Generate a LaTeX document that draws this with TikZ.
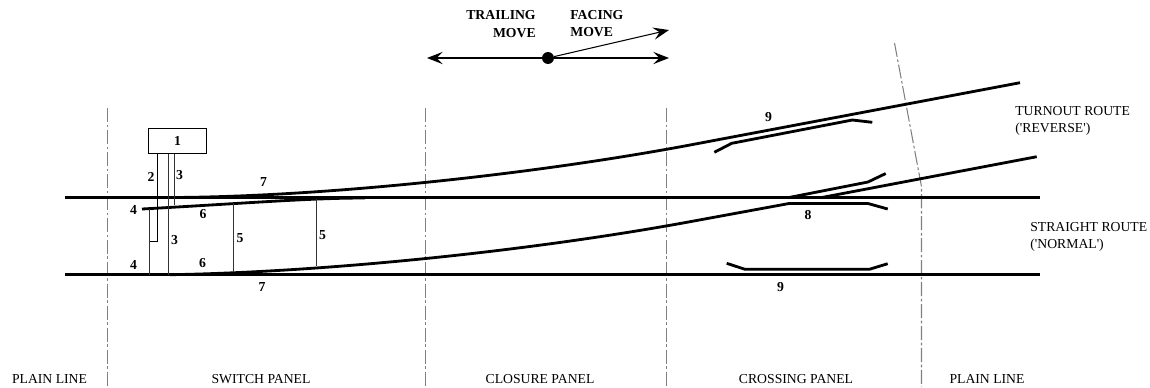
\documentclass[tikz,border=0pt]{standalone}
\usepackage{fontspec}
\setmainfont{Liberation Serif}
\usetikzlibrary{arrows.meta}

\tikzset{
    rail/.style={line width=1.6pt, line join=round},
    rod/.style={line width=0.6pt, black!80},
    panelline/.style={gray, line width=0.6pt, dash pattern=on 8pt off 1.5pt on 1.5pt off 1.5pt},
    movearrow/.style={line width=0.6pt, -{Stealth[length=9pt, width=7pt, inset=3.5pt]}},
    partlabel/.style={font=\fontsize{7.8}{9}\selectfont\bfseries, inner sep=0pt},
    routelabel/.style={font=\fontsize{7.8}{9.6}\selectfont, inner sep=0pt, anchor=west, align=left},
    panellabel/.style={font=\fontsize{7.8}{9}\selectfont, inner sep=0pt}
}

\begin{document}
\begin{tikzpicture}[x=0.02cm, y=-0.02cm]
    \useasboundingbox (0,0) rectangle (1150,387);

    % Panel boundaries
    \draw[panelline] (107.5,108) -- (107.5,387);
    \draw[panelline] (425.5,108) -- (425.5,387);
    \draw[panelline] (666.5,108) -- (666.5,387);
    \draw[panelline] (894.5,43) -- (921.5,186.7) -- (921.5,387);

    % Straight rails
    \draw[rail] (65,197.7) -- (1040,197.7);
    \draw[rail] (65,274.7) -- (1040,274.7);

    % Turnout rails
    \draw[rail] (170,197.5) .. controls (320,197) and (530,175) .. (690,145) -- (1020,82.7);
    \draw[rail] (170,274.7) .. controls (330,272) and (535,250.2) .. (690,221.7) -- (789,203.5) -- (868,203.5) -- (887.7,209);
    \draw[rail] (142,209) .. controls (250,203) and (310,198) .. (365,198);
    \draw[rail] (788,197.7) -- (868,182) -- (885.7,173.5);
    \draw[rail] (820.7,197.7) -- (1036.7,156.7);

    % Check rails
    \draw[rail] (714.3,152.3) -- (731.7,143.3) -- (852.3,120) -- (872.3,122.3);
    \draw[rail] (726.7,263.3) -- (745,269.3) -- (869.3,269.3) -- (887.7,263.7);

    % Switch machine and rods
    \node[draw, line width=0.6pt, minimum width=1.16cm, minimum height=0.51cm, inner sep=0pt, font=\fontsize{7.8}{9}\selectfont\bfseries] (machine) at (177.5,141.2) {1};
    \draw[line width=1.1pt] (157.5,154) -- (157.5,241.5) -- (149.5,241.5);
    \draw[rod] (149.5,209) -- (149.5,274.7);
    \draw[rod] (168.5,154) -- (168.5,274.7);
    \draw[rod] (174.5,154) -- (174.5,205);
    \draw[rod] (233.5,203) -- (233.5,271.7);
    \draw[rod] (316.5,199) -- (316.5,266);

    % Part numbers
    \node[partlabel] (two) at (151,177) {2};
    \node[partlabel] (threeup) at (179.5,175) {3};
    \node[partlabel] (threelow) at (174.5,240) {3};
    \node[partlabel] (fourup) at (133.5,210) {4};
    \node[partlabel] (fourlow) at (133.5,265) {4};
    \node[partlabel] (fiveleft) at (240,238) {5};
    \node[partlabel] (fiveright) at (322.5,235) {5};
    \node[partlabel] (sixup) at (203,214) {6};
    \node[partlabel] (sixlow) at (202.5,263) {6};
    \node[partlabel] (sevenup) at (263.5,182) {7};
    \node[partlabel] (sevenlow) at (262,287) {7};
    \node[partlabel] (eight) at (808,215) {8};
    \node[partlabel] (nineup) at (768.5,117) {9};
    \node[partlabel] (ninelow) at (780.5,287) {9};

    % Direction of moves
    \node[circle, fill=black, minimum size=6.8pt, inner sep=0pt] (dot) at (548,58) {};
    \coordinate (trailend) at (427,58);
    \coordinate (facingend) at (669,58);
    \coordinate (turnoutend) at (669,30);
    \draw[movearrow] (dot) -- (trailend);
    \draw[movearrow] (dot) -- (facingend);
    \draw[movearrow] (dot) -- (turnoutend);
    \node[partlabel, anchor=east, align=right, font=\fontsize{7.8}{10}\selectfont\bfseries] (trailing) at (536,24) {TRAILING\\MOVE};
    \node[partlabel, anchor=west, align=left, font=\fontsize{7.8}{10}\selectfont\bfseries] (facing) at (570,23.5) {FACING\\MOVE};

    % Route names
    \node[routelabel] (turnout) at (1015,120.5) {TURNOUT ROUTE\\(\textquotesingle REVERSE\textquotesingle)};
    \node[routelabel] (straight) at (1030,236.5) {STRAIGHT ROUTE\\(\textquotesingle NORMAL\textquotesingle)};

    % Panel names
    \node[panellabel] (plainleft) at (49.5,379) {PLAIN LINE};
    \node[panellabel] (switch) at (261,379) {SWITCH PANEL};
    \node[panellabel] (closure) at (540,379) {CLOSURE PANEL};
    \node[panellabel] (crossing) at (796,379) {CROSSING PANEL};
    \node[panellabel] (plainright) at (987,379) {PLAIN LINE};
\end{tikzpicture}
\end{document}
